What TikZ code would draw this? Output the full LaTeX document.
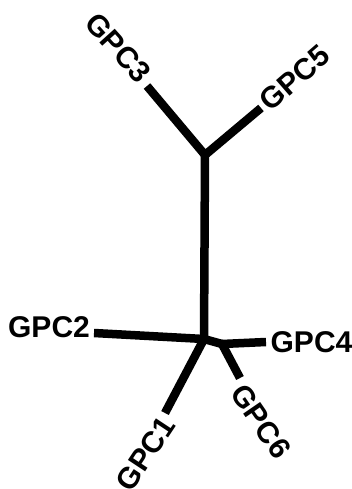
\documentclass[tikz,border=0pt]{standalone}
\usepackage{fontspec}
\setmainfont{Liberation Sans}
\begin{document}
\begin{tikzpicture}[x=1pt,y=-1pt,
  branch/.style={line width=8.5pt, line cap=butt, line join=round},
  lbl/.style={inner sep=0pt, font=\fontsize{30}{30}\selectfont\bfseries}]
\useasboundingbox (0,0) rectangle (351,489);
% internal nodes and leaf ends
\coordinate (T) at (205,155);
\coordinate (B) at (204,339);
\coordinate (S) at (222,344);
\coordinate (e3) at (147,86);
\coordinate (e5) at (261,108);
\coordinate (e2) at (94,333);
\coordinate (e1) at (165,413);
\coordinate (e4) at (266,342);
\coordinate (e6) at (240,378);
% labels
\node[lbl, rotate=-48] (g3) at (118,47.5) {GPC3};
\node[lbl, rotate=41] (g5) at (294.5,78) {GPC5};
\node[lbl] (g2) at (49,327) {GPC2};
\node[lbl] (g4) at (311.5,342) {GPC4};
\node[lbl, rotate=-55.5] (g6) at (261,421.5) {GPC6};
\node[lbl, rotate=56.5] (g1) at (145.5,453.5) {GPC1};
% branches
\draw[branch] (e3) -- (T) -- (e5);
\draw[branch] (T) -- (B);
\draw[branch] (e2) -- (B) -- (e1);
\draw[branch] (B) -- (S);
\draw[branch] (e4) -- (S) -- (e6);
\end{tikzpicture}
\end{document}
